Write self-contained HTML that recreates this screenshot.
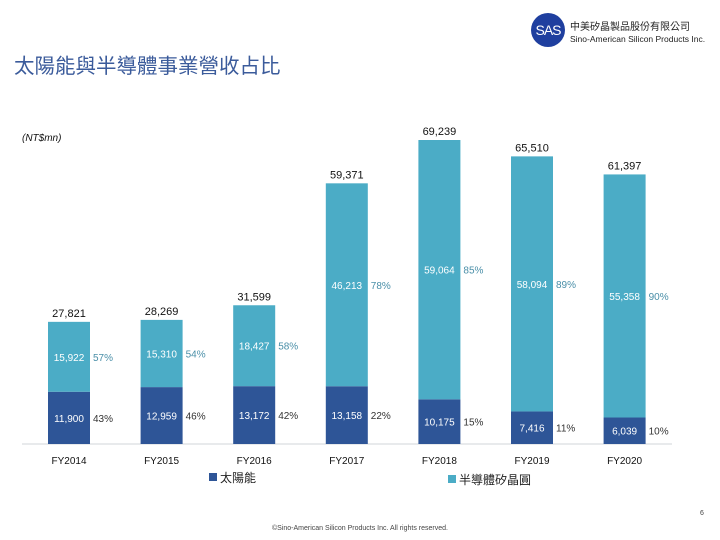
<!DOCTYPE html>
<html><head><meta charset="utf-8"><style>
body{margin:0;width:720px;height:540px;background:#fff;overflow:hidden;font-family:"Liberation Sans","Noto Sans CJK TC",sans-serif;}
svg{display:block}
</style></head><body>
<svg id="c" width="720" height="540">
<text x="14" y="73" font-size="20.5" fill="#3b5b9b" font-family="Liberation Sans, Noto Sans CJK TC, sans-serif">太陽能與半導體事業營收占比</text>
<g>
<circle cx="548" cy="30" r="17" fill="#1f3f9f"/>
<text x="548" y="35" font-size="14" fill="#fff" text-anchor="middle" letter-spacing="-1">SAS</text>
<text x="570" y="30" font-size="10" fill="#222" font-family="Liberation Sans, Noto Sans CJK TC, sans-serif">中美矽晶製品股份有限公司</text>
<text x="570" y="42" font-size="8.5" fill="#222">Sino-American Silicon Products Inc.</text>
</g>
<text x="22" y="141" font-size="10" font-style="italic" fill="#111">(NT$mn)</text>
<line x1="22" y1="444" x2="672" y2="444" stroke="#d0d4da" stroke-width="1"/>
<g id="bars"></g>
<g>
<rect x="209" y="473" width="8" height="8" fill="#2e5597"/>
<text x="220" y="482" font-size="12" fill="#222" font-family="Liberation Sans, Noto Sans CJK TC, sans-serif">太陽能</text>
<rect x="448" y="475" width="8" height="8" fill="#4bacc6"/>
<text x="459" y="484" font-size="12" fill="#222" font-family="Liberation Sans, Noto Sans CJK TC, sans-serif">半導體矽晶圓</text>
</g>
<text x="700" y="515" font-size="7" fill="#444">6</text>
<text x="360" y="530" font-size="7" fill="#444" text-anchor="middle">©Sino-American Silicon Products Inc. All rights reserved.</text>
</svg>
<script>
const categories=["FY2014","FY2015","FY2016","FY2017","FY2018","FY2019","FY2020"];
const solar=[11900,12959,13172,13158,10175,7416,6039];
const semi=[15922,15310,18427,46213,59064,58094,55358];
const totals=[27821,28269,31599,59371,69239,65510,61397];
const solarPct=["43%","46%","42%","22%","15%","11%","10%"];
const semiPct=["57%","54%","58%","78%","85%","89%","90%"];
const base=444, scale=304/69239, x0=69, step=92.6, bw=42;
const y=v=>base-v*scale;
const xc=i=>x0+i*step;
const fmt=n=>n.toLocaleString('en-US');
const g=document.getElementById('bars');
const NS='http://www.w3.org/2000/svg';
function mk(tag,a,txt){const e=document.createElementNS(NS,tag);for(const k in a)e.setAttribute(k,a[k]);if(txt!=null)e.textContent=txt;g.appendChild(e);return e;}
categories.forEach((c,i)=>{
  const cx=xc(i), s=solar[i], m=semi[i];
  let e=mk('rect',{x:cx-bw/2,y:y(s),width:bw,height:base-y(s),fill:'#2e5597'});
  
  
  e=mk('rect',{x:cx-bw/2,y:y(s+m),width:bw,height:y(s)-y(s+m),fill:'#4bacc6'});
  
  
  const ys=(y(0)+y(s))/2+4, ym=(y(s)+y(s+m))/2+4;
  e=mk('text',{x:cx,y:ys,'font-size':10,fill:'#fff','text-anchor':'middle'},fmt(s));
  
  
  e=mk('text',{x:cx+bw/2+3,y:ys,'font-size':10,fill:'#333'},solarPct[i]);
  
  
  e=mk('text',{x:cx,y:ym,'font-size':10,fill:'#fff','text-anchor':'middle'},fmt(m));
  
  
  e=mk('text',{x:cx+bw/2+3,y:ym,'font-size':10,fill:'#4a8fa8'},semiPct[i]);
  
  
  e=mk('text',{x:cx,y:y(totals[i])-5,'font-size':11,fill:'#111','text-anchor':'middle'},fmt(totals[i]));
  
  
  e=mk('text',{x:cx,y:464,'font-size':10,fill:'#111','text-anchor':'middle'},c);
  
  
});
</script>
</body></html>
